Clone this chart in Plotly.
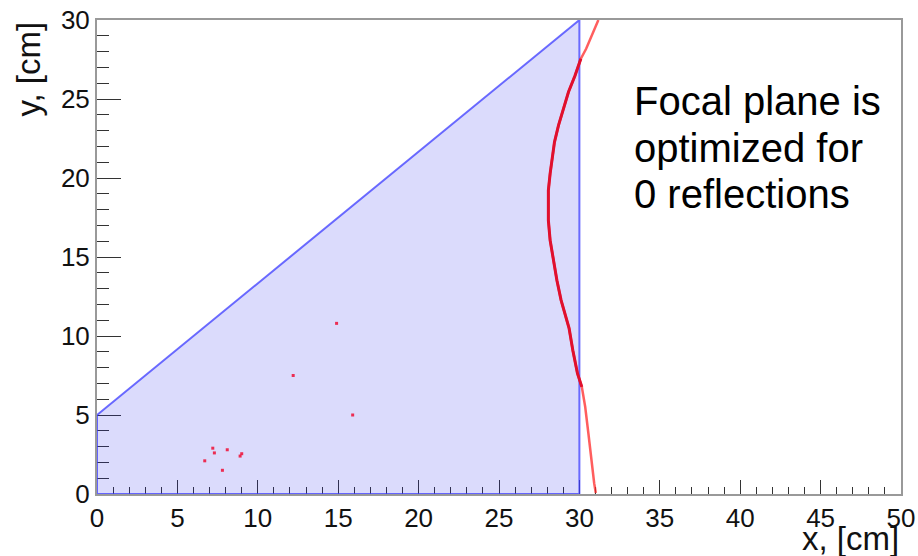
import plotly.graph_objects as go

# Acceptance region polygon (x, y) in cm
poly_x = [0, 0, 30, 30, 0]
poly_y = [0, 5, 30, 0, 0]

# Focal-plane curve
curve_y = [30.0, 29.23, 28.18, 27.55, 26.49, 25.44, 24.39, 23.33, 22.27, 21.22,
           20.28, 19.22, 17.32, 16.06, 14.79, 13.53, 12.27, 11.21, 10.48, 9.10,
           7.63, 6.78, 5.52, 3.83, 2.15, 0.68, 0.06]
curve_x = [31.18, 30.87, 30.42, 30.09, 29.73, 29.32, 29.01, 28.70, 28.45, 28.29,
           28.18, 28.07, 28.07, 28.18, 28.38, 28.60, 28.86, 29.17, 29.36, 29.59,
           29.88, 30.15, 30.36, 30.56, 30.73, 30.92, 31.02]

# Stray hits
stray_x = [14.9, 12.2, 15.9, 7.2, 7.3, 8.1, 9.0, 8.9, 6.7, 7.8]
stray_y = [10.8, 7.5, 5.0, 2.9, 2.6, 2.8, 2.55, 2.4, 2.1, 1.5]

# Text
x_title = "x, [cm]"
y_title = "y, [cm]"
note_lines = ["Focal plane is", "optimized for", "0 reflections"]

fig = go.Figure()

fig.add_trace(go.Scatter(
    x=poly_x, y=poly_y, mode="lines", fill="toself",
    fillcolor="rgba(40,40,240,0.17)",
    line=dict(color="rgba(60,60,255,0.75)", width=2),
    hoverinfo="skip", showlegend=False))

# outer (light) curve
fig.add_trace(go.Scatter(
    x=curve_x, y=curve_y, mode="lines",
    line=dict(color="rgba(255,40,40,0.75)", width=2.5),
    showlegend=False))

# inner (dark) part of the curve
in_x = [x for x in curve_x if x <= 30.15]
in_y = [y for x, y in zip(curve_x, curve_y) if x <= 30.15]
fig.add_trace(go.Scatter(
    x=in_x, y=in_y, mode="lines",
    line=dict(color="#e0102e", width=3),
    showlegend=False))

fig.add_trace(go.Scatter(
    x=stray_x, y=stray_y, mode="markers",
    marker=dict(color="rgba(240,0,40,0.8)", size=3, symbol="square"),
    showlegend=False))

axis_common = dict(
    showline=True, mirror=True, linecolor="#999999", linewidth=2,
    showgrid=False, zeroline=False, automargin=False,
    ticks="inside", tickcolor="#333333", tickwidth=1.3,
    dtick=5, tick0=0,
    tickfont=dict(family="Liberation Sans", size=26, color="#111111"),
    layer="below traces",
)

fig.update_xaxes(range=[0, 50], ticklen=14,
                 minor=dict(dtick=1, ticks="inside", ticklen=7, tickcolor="#333333", tickwidth=1.2),
                 **axis_common)
fig.update_yaxes(range=[0, 30], ticklen=24,
                 minor=dict(dtick=1, ticks="inside", ticklen=12, tickcolor="#333333", tickwidth=1.2),
                 **axis_common)

annotations = [
    dict(text=x_title, xref="paper", yref="paper", x=1.0, y=-0.093,
         xanchor="right", yanchor="middle", showarrow=False,
         font=dict(family="Liberation Sans", size=33, color="#111111")),
    dict(text=y_title, xref="paper", yref="paper", x=-0.0858, y=1.0,
         xanchor="center", yanchor="top", textangle=-90, showarrow=False,
         font=dict(family="Liberation Sans", size=33, color="#111111")),
]
note_centers = [101, 148, 194]
for line, cy in zip(note_lines, note_centers):
    annotations.append(dict(
        text=line, xref="paper", yref="paper",
        x=(632 - 97) / 804, y=(494 - cy) / 474,
        xanchor="left", yanchor="middle", showarrow=False,
        font=dict(family="Liberation Sans", size=40, color="#000000")))

fig.update_layout(
    width=918, height=556,
    margin=dict(l=97, r=17, t=20, b=62),
    paper_bgcolor="white", plot_bgcolor="white",
    annotations=annotations,
    showlegend=False,
)

fig.write_html("out.html",
               config={"displayModeBar": False},
               post_script="document.body.style.margin='0';document.body.style.overflow='hidden';")
